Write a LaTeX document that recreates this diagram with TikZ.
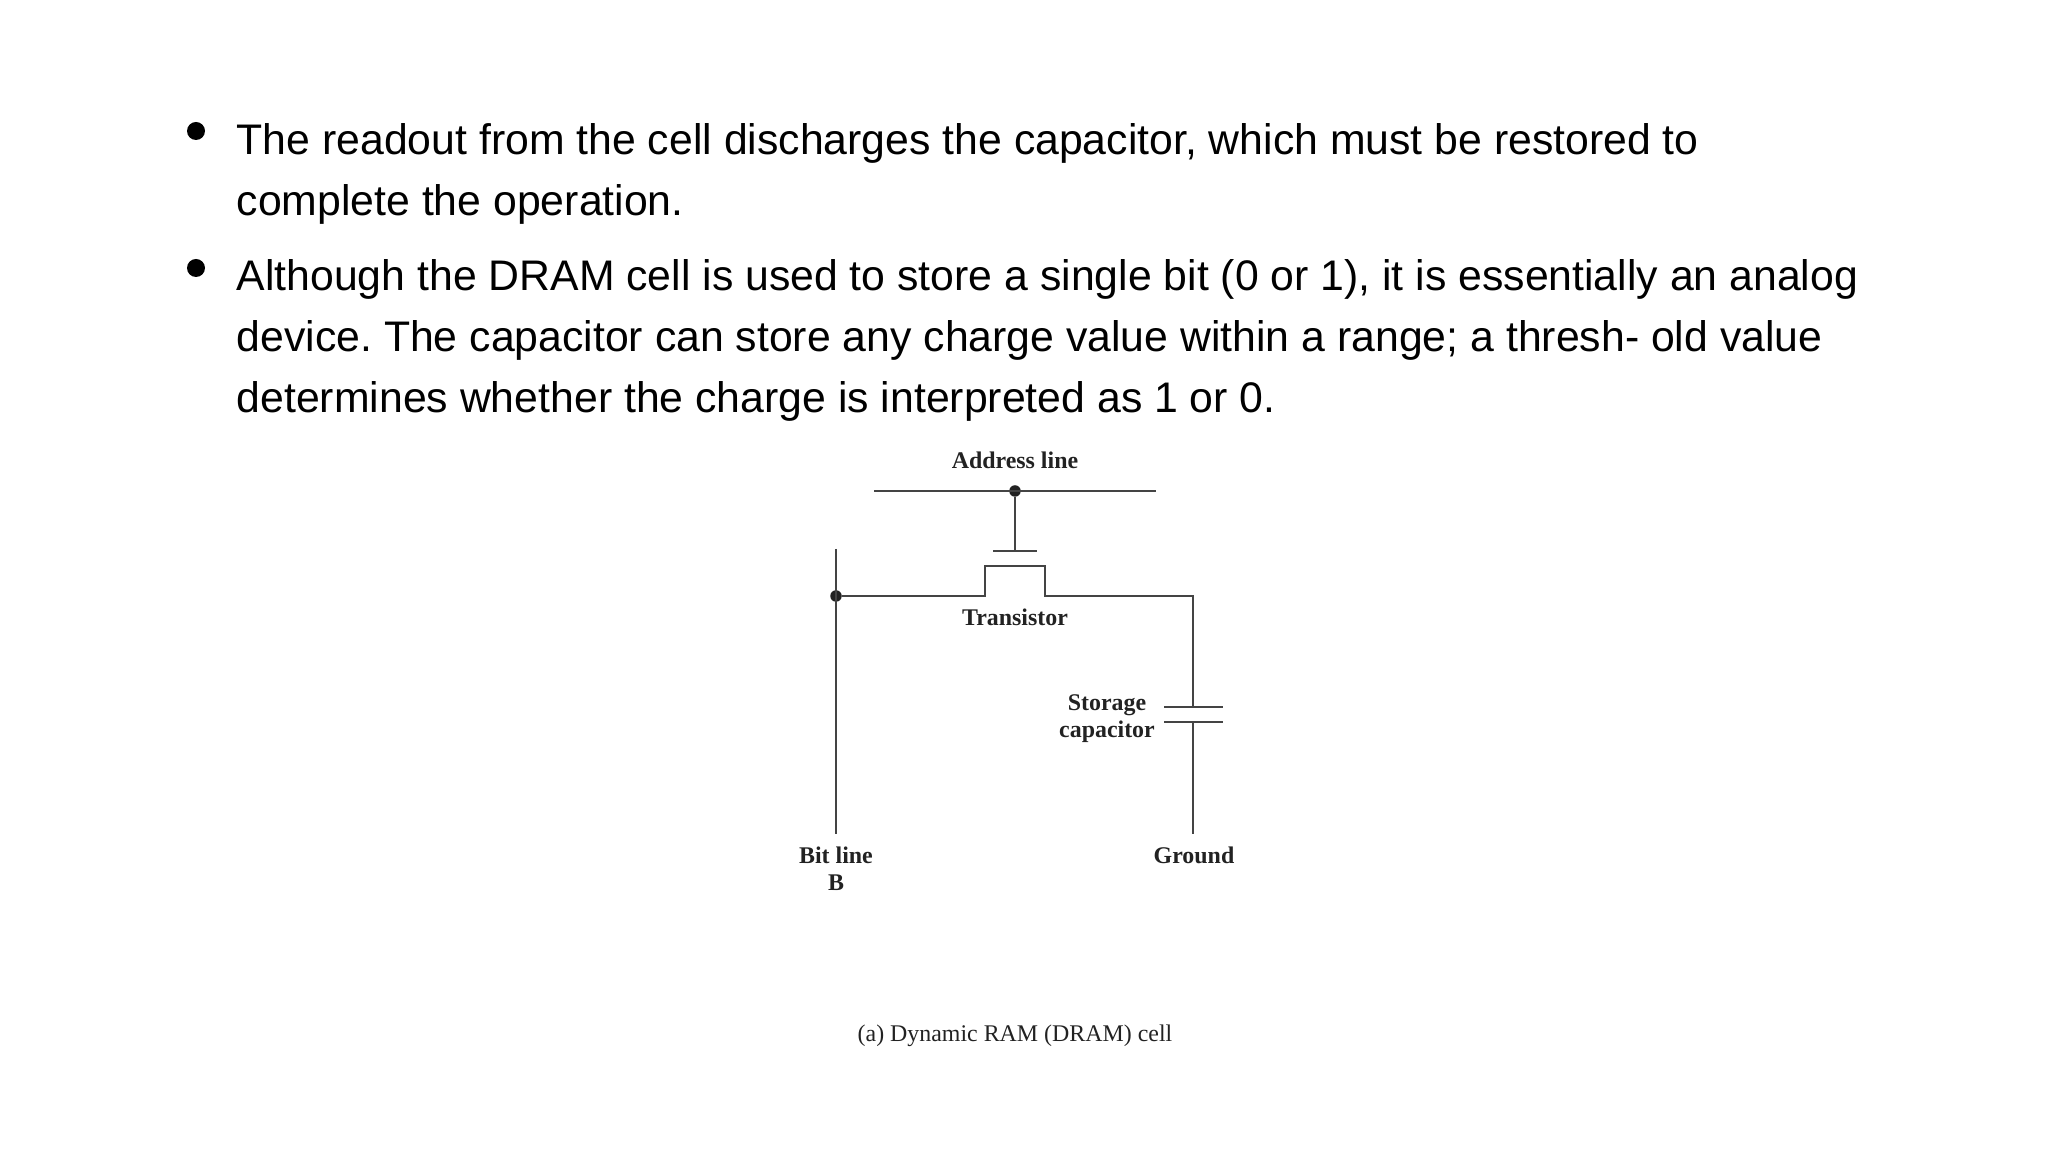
\documentclass[tikz,border=0pt]{standalone}
\usepackage{fontspec}
\setmainfont{Liberation Sans}
\newfontfamily\figfont{Liberation Serif}
\usetikzlibrary{positioning}
\definecolor{wireink}{HTML}{444444}
\definecolor{labelink}{HTML}{222222}
\frenchspacing
\tikzset{
  bodytext/.style={anchor=base west, inner sep=0pt, font=\fontsize{12.17}{15}\selectfont, text=black},
  figlabel/.style={anchor=base, inner sep=0pt, font=\figfont\bfseries\fontsize{6.8}{8}\selectfont, text=labelink},
  wire/.style={draw=wireink, line width=.45pt},
  joint/.style={circle, fill=labelink, inner sep=0pt, minimum size=.115cm},
  bulletdot/.style={circle, fill=black, inner sep=0pt, minimum size=.18cm}
}

\begin{document}
\begin{tikzpicture}
  \useasboundingbox (0, 0) rectangle (20.48, 11.52);

  \node[bulletdot] (bulleta) at (1.96, 10.21) {};
  \node[bulletdot] (bulletb) at (1.96, 8.84)  {};

  \node[bodytext] (linea) at (2.36, 9.97) {The readout from the cell discharges the capacitor, which must be restored to};
  \node[bodytext] (lineb) at (2.36, 9.36) {complete the operation.};
  \node[bodytext] (linec) at (2.36, 8.61) {Although the DRAM cell is used to store a single bit (0 or 1), it is essentially an analog};
  \node[bodytext] (lined) at (2.36, 8.00) {device. The capacitor can store any charge value within a range; a thresh- old value};
  \node[bodytext] (linee) at (2.36, 7.39) {determines whether the charge is interpreted as 1 or 0.};

  \node[figlabel] (address)   at (10.15, 6.83) {Address line};
  \node[figlabel] (transistor) at (10.15, 5.26) {Transistor};
  \node[figlabel] (storage)   at (11.07, 4.41) {Storage};
  \node[figlabel] (capacitor) at (11.07, 4.14) {capacitor};
  \node[figlabel] (bitline)   at (8.36, 2.88)  {Bit line};
  \node[figlabel] (bitb)      at (8.36, 2.61)  {B};
  \node[figlabel] (ground)    at (11.94, 2.88) {Ground};
  \node[figlabel, font=\figfont\fontsize{6.8}{8}\selectfont] (caption) at (10.15, 1.10) {(a) Dynamic RAM (DRAM) cell};

  \node[joint] (addrdot) at (10.15, 6.61) {};
  \node[joint] (bitdot)  at (8.36, 5.56)  {};

  \coordinate (addrl) at (8.74, 6.61);
  \coordinate (addrr) at (11.56, 6.61);
  \coordinate (gatem) at (10.15, 6.01);
  \coordinate (gatel) at (9.93, 6.01);
  \coordinate (gater) at (10.37, 6.01);
  \coordinate (bittop) at (8.36, 6.03);
  \coordinate (bitend) at (8.36, 3.18);
  \coordinate (draina) at (9.85, 5.56);
  \coordinate (drainb) at (9.85, 5.86);
  \coordinate (sourcea) at (10.45, 5.86);
  \coordinate (sourceb) at (10.45, 5.56);
  \coordinate (corner) at (11.93, 5.56);
  \coordinate (capm) at (11.93, 4.45);
  \coordinate (capl) at (11.64, 4.45);
  \coordinate (capr) at (12.23, 4.45);
  \coordinate (capn) at (11.93, 4.30);
  \coordinate (capp) at (11.64, 4.30);
  \coordinate (capq) at (12.23, 4.30);
  \coordinate (gndend) at (11.93, 3.18);

  \draw[wire] (addrl) -- (addrr);
  \draw[wire] (addrdot) -- (gatem);
  \draw[wire] (gatel) -- (gater);
  \draw[wire] (bittop) -- (bitend);
  \draw[wire] (bitdot) -- (draina) -- (drainb) -- (sourcea) -- (sourceb) -- (corner) -- (capm);
  \draw[wire] (capl) -- (capr);
  \draw[wire] (capp) -- (capq);
  \draw[wire] (capn) -- (gndend);
\end{tikzpicture}
\end{document}
